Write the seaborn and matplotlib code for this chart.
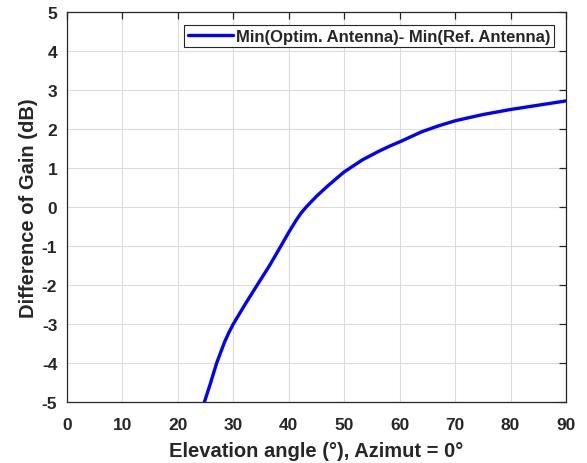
import matplotlib
matplotlib.use("Agg")
import matplotlib.pyplot as plt
import seaborn as sns
import pandas as pd

# Gain difference between the optimised and reference antennas vs elevation
elevation_deg = [24.79, 25.88, 27.0, 28.4, 29.2, 30.0, 32.24, 34.36, 36.5, 38.3,
                 40.0, 41.33, 42.2, 43.15, 44.97, 46.8, 48.5, 50.0, 53.3, 56.4,
                 58.2, 60.0, 64.0, 67.0, 70.0, 75.0, 80.0, 85.0, 90.0]
gain_diff_db = [-5.0, -4.52, -4.0, -3.47, -3.22, -3.0, -2.47, -1.99, -1.51, -1.07,
                -0.65, -0.34, -0.16, 0.0, 0.27, 0.51, 0.72, 0.90, 1.21, 1.44,
                1.56, 1.67, 1.93, 2.08, 2.21, 2.37, 2.50, 2.61, 2.72]
series_label = "Min(Optim. Antenna)- Min(Ref. Antenna)"
x_ticks = [0, 10, 20, 30, 40, 50, 60, 70, 80, 90]
y_ticks = [-5, -4, -3, -2, -1, 0, 1, 2, 3, 4, 5]

df = pd.DataFrame({"elev": elevation_deg, "diff": gain_diff_db,
                   "series": series_label})

sns.set_style("white")
plt.rcParams["font.family"] = ["Liberation Sans", "DejaVu Sans"]
plt.rcParams["font.weight"] = "bold"
plt.rcParams["axes.unicode_minus"] = False

fig = plt.figure(figsize=(5.87, 4.64), dpi=100)
ax = fig.add_axes([0.1141, 0.1315, 0.8501, 0.8405])

sns.lineplot(data=df, x="elev", y="diff", hue="series",
             palette=["#0000ff"], linewidth=2.4, ax=ax, sort=False)

ax.set_xlim(0, 90)
ax.set_ylim(-5, 5)
ax.set_xticks(x_ticks)
ax.set_yticks(y_ticks)
ax.grid(True, color="#dcdcdc", linewidth=0.8)
ax.set_axisbelow(True)

for side in ["left", "right", "top", "bottom"]:
    ax.spines[side].set_visible(True)
    ax.spines[side].set_color("#262626")
    ax.spines[side].set_linewidth(0.9)

ax.tick_params(direction="in", length=5, width=0.9, color="#262626",
               top=True, right=True, labelsize=12.5, labelcolor="#262626")
ax.tick_params(axis="x", pad=10.5)
ax.tick_params(axis="y", pad=7)
for lab in ax.get_xticklabels() + ax.get_yticklabels():
    lab.set_fontweight("bold")

ax.set_xlabel("Elevation angle (\u00b0), Azimut = 0\u00b0", fontsize=14.5,
              fontweight="bold", color="#262626", labelpad=6.5)
ax.set_ylabel("Difference of Gain (dB)", fontsize=14.5,
              fontweight="bold", color="#262626", labelpad=2.5)

leg = ax.legend(loc="upper right", bbox_to_anchor=(0.976, 0.967),
                fancybox=False, framealpha=1, edgecolor="#262626",
                prop={"weight": "bold", "size": 12}, handlelength=2.7,
                handletextpad=0.2, borderpad=0.22, borderaxespad=0)
leg.get_frame().set_linewidth(0.8)
leg.set_title(None)

fig.savefig("out.png", dpi=100)
